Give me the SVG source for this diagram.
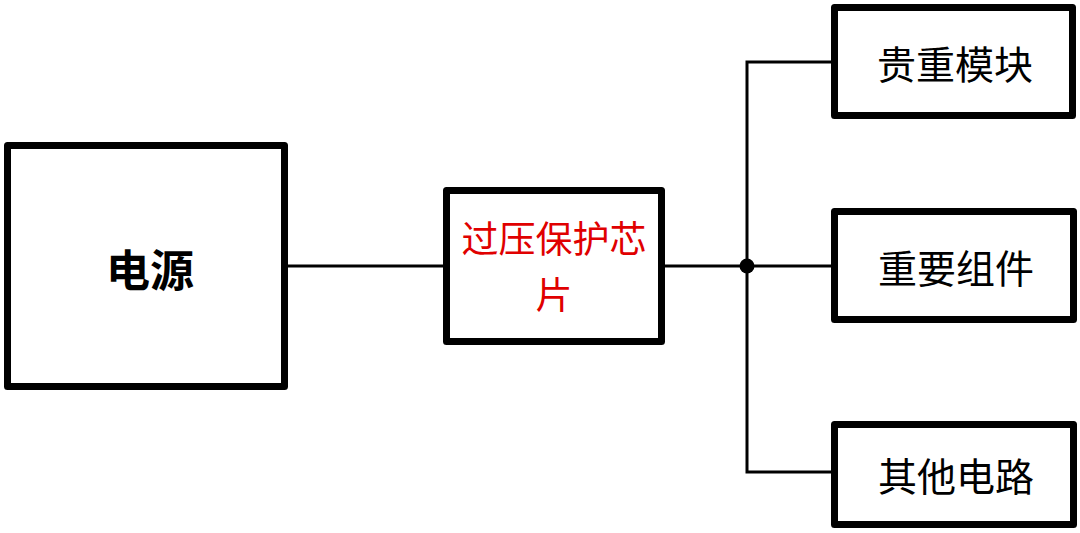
<svg xmlns="http://www.w3.org/2000/svg" width="1080" height="533" viewBox="0 0 1080 533">
<style>
.box{fill:#fff;stroke:#000;stroke-width:7;stroke-linejoin:round}
.wire{fill:none;stroke:#000;stroke-width:3}
.lbl{font-family:"Noto Sans CJK SC","Liberation Serif",sans-serif;text-anchor:middle;dominant-baseline:central;fill:#000}
</style>
<rect width="1080" height="533" fill="#fff"/>
<g id="connectors">
<line class="wire" x1="288" y1="266" x2="446" y2="266"/>
<line class="wire" x1="662" y1="266" x2="747" y2="266"/>
<polyline class="wire" points="834,62 747,62 747,472 834,472"/>
<line class="wire" x1="747" y1="266" x2="834" y2="266"/>
<circle cx="747" cy="266" r="7.5" fill="#000"/>
</g>
<g id="power">
<rect class="box" x="7.5" y="145.5" width="277" height="241"/>
<text class="lbl" x="150" y="268" font-size="44" font-weight="bold">电源</text>
</g>
<g id="ovp">
<rect class="box" x="446.5" y="190.5" width="215" height="151"/>
<text class="lbl" x="554" y="237" font-size="37" fill="#e00000" style="fill:#e00000">过压保护芯</text>
<text class="lbl" x="554" y="293" font-size="37" style="fill:#e00000">片</text>
</g>
<g id="valuable">
<rect class="box" x="834.5" y="7.5" width="238" height="108"/>
<text class="lbl" x="955" y="62" font-size="39">贵重模块</text>
</g>
<g id="important">
<rect class="box" x="834.5" y="211.5" width="239" height="108"/>
<text class="lbl" x="956" y="266" font-size="39">重要组件</text>
</g>
<g id="other">
<rect class="box" x="834.5" y="424.5" width="239" height="100"/>
<text class="lbl" x="956" y="474" font-size="39">其他电路</text>
</g>
</svg>
